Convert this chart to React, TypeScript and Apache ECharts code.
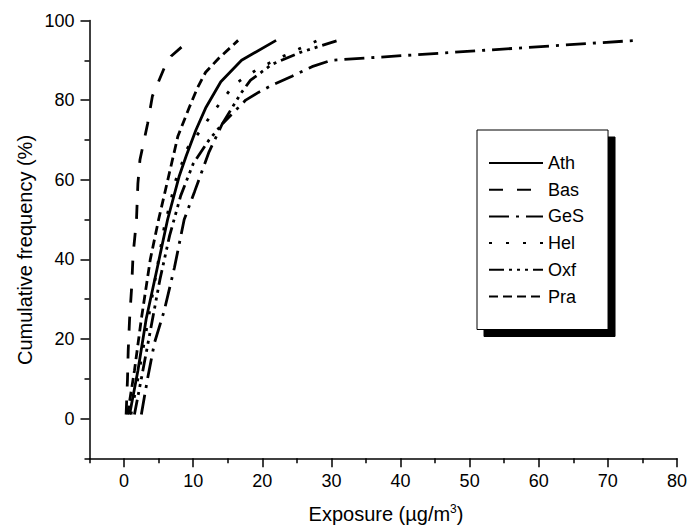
import React, { useEffect, useRef } from "react";
import * as echarts from "echarts";

const seriesNames = ["Ath", "Bas", "GeS", "Hel", "Oxf", "Pra"];

const ath = [[0.8, 1], [2, 12], [3.2, 25], [4.7, 37], [6.3, 50], [8, 61], [9, 66], [10.4, 72.5], [11.8, 78], [14, 84.6], [17, 90], [22, 95]];
const bas = [[0.3, 1], [0.5, 10], [0.6, 17], [0.8, 25], [1.1, 33], [1.3, 41], [1.8, 50], [2.0, 59], [2.3, 65], [3.4, 74], [4.1, 81], [5.8, 88], [6.8, 91], [9.4, 95]];
const ges = [[2.5, 1], [3.4, 10], [4.4, 19], [5.8, 27], [7.3, 38], [8.7, 50], [10.2, 57], [12.3, 67], [14.2, 74], [17.6, 80], [19.5, 82], [21.7, 84], [24.3, 86], [27.2, 88.4], [30, 90], [74, 95]];
const hel = [[1, 1], [2, 10], [3, 20], [4.5, 35], [5.8, 48], [7.5, 60], [9.2, 68], [10.9, 72], [12.5, 76], [14.2, 80], [16, 84], [19.5, 88], [23, 91], [28, 95]];
const oxf = [[1.5, 1], [2.5, 10], [3.8, 22], [5.2, 35], [6.6, 46], [8.2, 56], [10, 64], [12.3, 70], [14.2, 74], [16.9, 81.7], [18.3, 85], [21.4, 89], [25.5, 92], [31, 95]];
const pra = [[0.5, 1], [1.5, 12], [2.5, 25], [3.8, 40], [5, 50], [6.6, 62], [7.8, 71], [9.4, 78], [10.6, 83], [11.8, 87], [13.7, 90.5], [16.5, 95]];

const xMajor = [0, 10, 20, 30, 40, 50, 60, 70, 80];
const xMinor = [-5, 5, 15, 25, 35, 45, 55, 65, 75];
const yMajor = [0, 20, 40, 60, 80, 100];
const yMinor = [-10, 10, 30, 50, 70, 90];

const FONT = "'Liberation Sans', Arial, sans-serif";

export default function App() {
  const ref = useRef<HTMLDivElement>(null);
  useEffect(() => {
    if (!ref.current) return;
    const chart = echarts.init(ref.current, undefined, { renderer: "svg" });
    const dataSets = [ath, bas, ges, hel, oxf, pra];
    const dashes: any[] = [
      "solid",
      [14, 14],
      [20, 7, 3, 7],
      [3, 14],
      [15, 5, 3, 5, 3, 5, 3, 5],
      [9, 5],
    ];
    const axisLineStyle = { color: "#000", width: 1.5 };
    chart.setOption({
      animation: false,
      backgroundColor: "#fff",
      grid: { left: 89.5, top: 20.5, right: 8.3, bottom: 72.7, containLabel: false },
      xAxis: [
        {
          type: "value", min: -5, max: 80, position: "bottom",
          axisLine: { show: true, onZero: false, lineStyle: axisLineStyle },
          axisTick: { show: true, customValues: xMajor, length: 9, lineStyle: axisLineStyle },
          axisLabel: { customValues: xMajor, margin: 14, color: "#000", fontSize: 18, fontFamily: FONT },
          splitLine: { show: false },
        },
        {
          type: "value", min: -5, max: 80, position: "bottom", offset: 0,
          axisLine: { show: false, onZero: false },
          axisTick: { show: true, customValues: xMinor, length: 5, lineStyle: axisLineStyle },
          axisLabel: { show: false },
          splitLine: { show: false },
        },
      ],
      yAxis: [
        {
          type: "value", min: -10, max: 100, position: "left",
          axisLine: { show: true, onZero: false, lineStyle: axisLineStyle },
          axisTick: { show: true, customValues: yMajor, length: 9, lineStyle: axisLineStyle },
          axisLabel: { customValues: yMajor, margin: 15, color: "#000", fontSize: 18, fontFamily: FONT },
          splitLine: { show: false },
        },
        {
          type: "value", min: -10, max: 100, position: "left", offset: 0,
          axisLine: { show: false, onZero: false },
          axisTick: { show: true, customValues: yMinor, length: 5, lineStyle: axisLineStyle },
          axisLabel: { show: false },
          splitLine: { show: false },
        },
      ],
      legend: {
        orient: "vertical",
        left: 477,
        top: 130,
        width: 130,
        padding: [23, 24, 23, 11],
        itemWidth: 54,
        itemHeight: 14,
        itemGap: 6.7,
        backgroundColor: "#fff",
        borderColor: "#000",
        borderWidth: 1,
        shadowColor: "#000",
        shadowBlur: 0,
        shadowOffsetX: 7,
        shadowOffsetY: 7,
        itemStyle: { opacity: 0 },
        textStyle: { color: "#000", fontSize: 18, fontFamily: FONT, lineHeight: 20 },
        data: seriesNames,
      },
      graphic: [
        {
          type: "text", x: 25, y: 250, rotation: Math.PI / 2,
          style: { text: "Cumulative frequency (%)", align: "center", verticalAlign: "middle", fill: "#000", fontSize: 20, fontFamily: FONT },
        },
        {
          type: "text", x: 386, y: 514,
          style: {
            text: "Exposure (µg/m{sup|3})", align: "center", verticalAlign: "middle", fill: "#000", fontSize: 20, fontFamily: FONT,
            rich: { sup: { fontSize: 12, fontFamily: FONT, fill: "#000", verticalAlign: "bottom", padding: [0, 0, 10, 0] } },
          },
        },
      ],
      series: seriesNames.map((name, i) => ({
        name,
        type: "line",
        xAxisIndex: 0,
        yAxisIndex: 0,
        data: dataSets[i],
        showSymbol: false,
        symbol: "none",
        smooth: false,
        lineStyle: { color: "#000", width: 2.8, type: dashes[i] },
        itemStyle: { color: "#000" },
      })),
    });
    return () => chart.dispose();
  }, []);
  return <div ref={ref} style={{ position: "absolute", left: 0, top: 0, width: 690, height: 531 }} />;
}
